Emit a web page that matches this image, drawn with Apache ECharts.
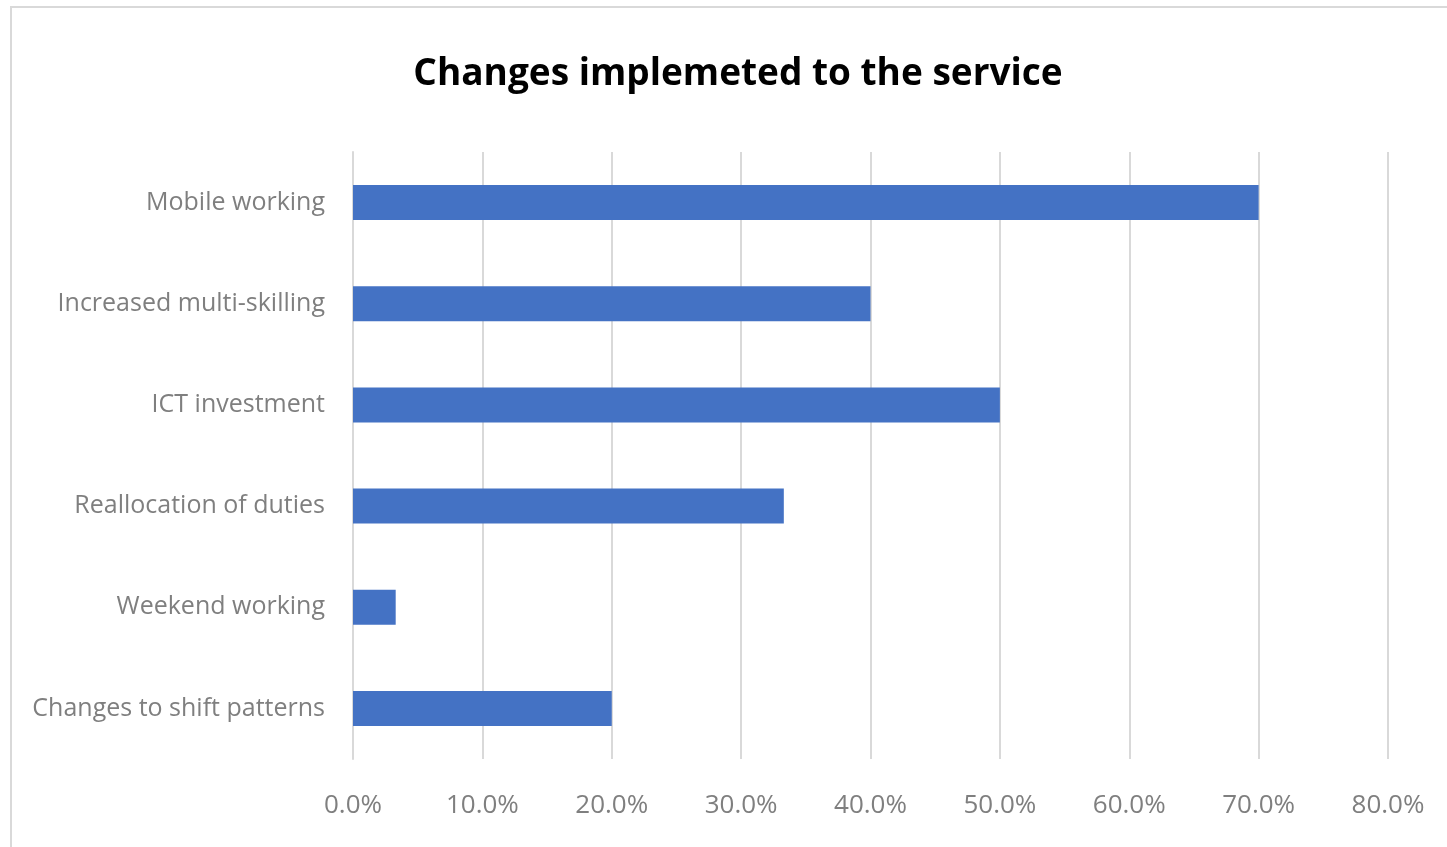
<!DOCTYPE html>
<html><head><meta charset="utf-8">
<script src="https://cdn.jsdelivr.net/npm/echarts@6/dist/echarts.min.js"></script>
<style>
html,body{margin:0;padding:0;background:#fff;width:1447px;height:847px;overflow:hidden;}
#frame{position:absolute;left:10px;top:6px;width:1460px;height:860px;border:2px solid #d9d9d9;box-sizing:border-box;}
#c{position:absolute;left:0;top:0;width:1447px;height:847px;}
</style></head>
<body><div id="frame"></div><div id="c"></div>
<script>
const categories = ["Mobile working","Increased multi-skilling","ICT investment","Reallocation of duties","Weekend working","Changes to shift patterns"];
const values = [0.70, 0.40, 0.50, 0.333, 0.033, 0.20];
const title = "Changes implemeted to the service";
const FONT = "'Open Sans',sans-serif";
const chart = echarts.init(document.getElementById('c'), null, {renderer:'canvas'});
chart.setOption({
  animation:false,
  title:{text:title,left:733,top:51,textAlign:'center',
    textStyle:{fontFamily:FONT,fontSize:37,fontWeight:'bold',color:'#000'}},
  grid:{left:353,right:59,top:152,bottom:88,containLabel:false},
  xAxis:{type:'value',min:0,max:0.8,interval:0.1,
    axisLine:{show:false},axisTick:{show:false},
    splitLine:{show:true,lineStyle:{color:'#d9d9d9',width:2}},
    axisLabel:{margin:34,fontFamily:FONT,fontSize:26,color:'#7f7f7f',
      formatter:v=>(v*100).toFixed(1)+'%'}},
  yAxis:{type:'category',data:categories,inverse:true,
    axisLine:{show:true,lineStyle:{color:'#d9d9d9',width:2}},axisTick:{show:false},
    axisLabel:{margin:28,fontFamily:FONT,fontSize:25,color:'#7f7f7f'}},
  series:[{type:'bar',data:values,barWidth:35,itemStyle:{color:'#4472C4'}}]
});
</script></body></html>
